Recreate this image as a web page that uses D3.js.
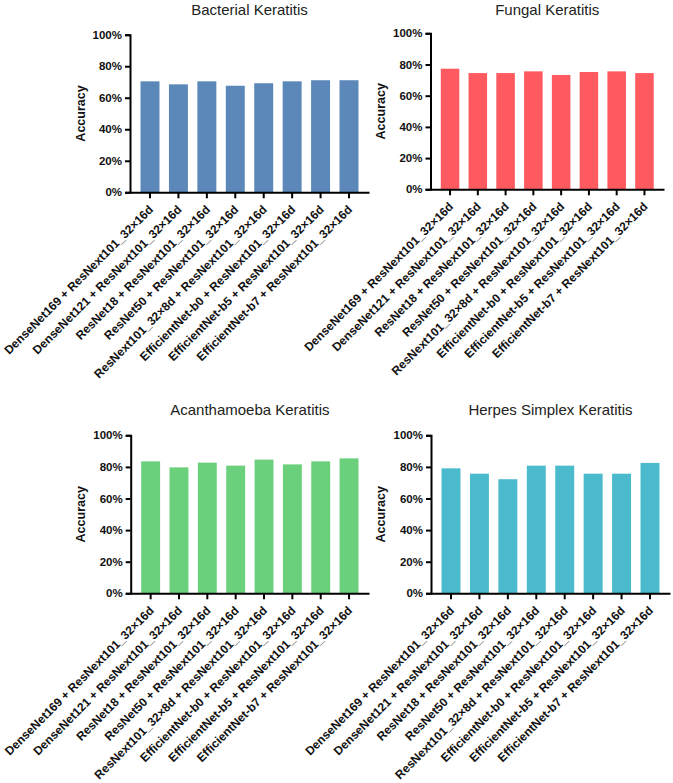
<!DOCTYPE html>
<html><head><meta charset="utf-8">
<script src="https://cdn.jsdelivr.net/npm/d3@7"></script>
<style>
body{margin:0;background:#fff;}
text{font-family:"Liberation Sans",Arial,sans-serif;}
</style></head>
<body><svg id="c" width="673" height="783"></svg>
<script>
const models = [
  "DenseNet169 + ResNext101_32×16d",
  "DenseNet121 + ResNext101_32×16d",
  "ResNet18 + ResNext101_32×16d",
  "ResNet50 + ResNext101_32×16d",
  "ResNext101_32×8d + ResNext101_32×16d",
  "EfficientNet-b0 + ResNext101_32×16d",
  "EfficientNet-b5 + ResNext101_32×16d",
  "EfficientNet-b7 + ResNext101_32×16d"
];
const panelTitles = ["Bacterial Keratitis","Fungal Keratitis","Acanthamoeba Keratitis","Herpes Simplex Keratitis"];
const bacterial = [0.704, 0.685, 0.704, 0.676, 0.692, 0.704, 0.711, 0.711];
const fungal = [0.773, 0.745, 0.745, 0.756, 0.733, 0.752, 0.756, 0.745];
const acanthamoeba = [0.835, 0.797, 0.827, 0.808, 0.846, 0.816, 0.835, 0.854];
const herpes = [0.791, 0.757, 0.722, 0.808, 0.808, 0.757, 0.757, 0.825];
const yTicks = [0, 0.2, 0.4, 0.6, 0.8, 1.0];
const yLabel = "Accuracy";

const series = [bacterial, fungal, acanthamoeba, herpes];
const colors = ["#5b87b9", "#ff5a60", "#6bd07b", "#4bbacd"];
const layout = [
  {x0:130, x1:369, y0:192.3, y1:34.7, lx:81, ty:14.5},
  {x0:430.5, x1:664, y0:189.3, y1:33.3, lx:381, ty:14.5},
  {x0:130.7, x1:369, y0:593.3, y1:435.3, lx:81, ty:415},
  {x0:431, x1:670, y0:593.3, y1:435.3, lx:381, ty:415}
];

const svg = d3.select("#c");
series.forEach((vals, i) => {
  const L = layout[i];
  const g = svg.append("g");
  const x = d3.scaleBand().domain(models).range([L.x0, L.x1]).paddingInner(0.333).paddingOuter(0.37);
  const y = d3.scaleLinear().domain([0, 1]).range([L.y0, L.y1]);

  g.selectAll("rect").data(vals).join("rect")
    .attr("x", (d, j) => x(models[j]))
    .attr("width", x.bandwidth())
    .attr("y", d => y(d))
    .attr("height", d => y(0) - y(d))
    .attr("fill", colors[i]);

  const ya = g.append("g").attr("transform", `translate(${L.x0},0)`)
    .call(d3.axisLeft(y).tickValues(yTicks).tickFormat(d3.format(".0%")).tickSize(5).tickPadding(3));
  ya.select(".domain").attr("stroke", "#000").attr("stroke-width", 2);
  ya.selectAll(".tick line").attr("stroke", "#000").attr("stroke-width", 2);
  ya.selectAll(".tick text").attr("font-size", 11.5).attr("font-weight", "bold").attr("fill", "#111")
    .attr("font-family", '"Liberation Sans",Arial,sans-serif');

  const xa = g.append("g").attr("transform", `translate(0,${L.y0})`)
    .call(d3.axisBottom(x).tickSize(6).tickSizeOuter(0));
  xa.select(".domain").attr("stroke", "#000").attr("stroke-width", 2);
  xa.selectAll(".tick line").attr("stroke", "#000").attr("stroke-width", 2);
  xa.selectAll(".tick text")
    .attr("font-size", 12).attr("font-weight", "bold").attr("fill", "#111")
    .attr("font-family", '"Liberation Sans",Arial,sans-serif')
    .attr("text-anchor", "end")
    .attr("y", 0).attr("dy", 0)
    .attr("transform", "translate(4,18) rotate(-45)");

  g.append("text").attr("x", (L.x0 + L.x1) / 2).attr("y", L.ty)
    .attr("text-anchor", "middle").attr("font-size", 15).attr("fill", "#222")
    .text(panelTitles[i]);

  g.append("text")
    .attr("transform", `translate(${L.lx},${(L.y0 + L.y1) / 2}) rotate(-90)`)
    .attr("dy", "0.35em")
    .attr("text-anchor", "middle").attr("font-size", 12.5).attr("font-weight", "bold").attr("fill", "#111")
    .text(yLabel);
});
</script></body></html>
